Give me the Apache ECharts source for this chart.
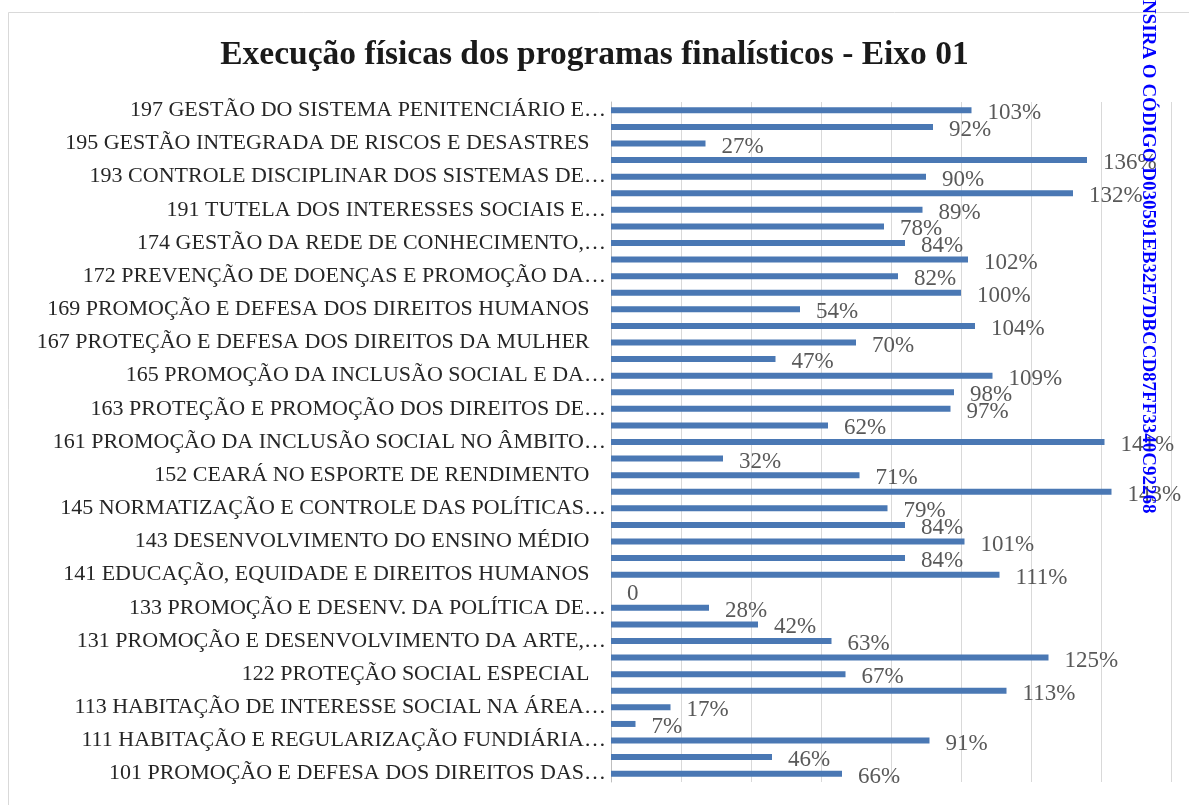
<!DOCTYPE html>
<html>
<head>
<meta charset="utf-8">
<script src="https://cdn.jsdelivr.net/npm/echarts@6/dist/echarts.min.js"></script>
<style>
html,body{margin:0;padding:0;background:#fff;}
#c{width:1189px;height:805px;}
</style>
</head>
<body>
<div id="c"></div>
<script>
// Categories, bottom to top (unlabelled rows in the picture are '')
const categories = [
  '101 PROMOÇÃO E DEFESA DOS DIREITOS DAS…', '',
  '111 HABITAÇÃO E REGULARIZAÇÃO FUNDIÁRIA…', '',
  '113 HABITAÇÃO DE INTERESSE SOCIAL NA ÁREA…', '',
  '122 PROTEÇÃO SOCIAL ESPECIAL   ', '',
  '131 PROMOÇÃO E DESENVOLVIMENTO DA ARTE,…', '',
  '133 PROMOÇÃO E DESENV. DA POLÍTICA DE…', '',
  '141 EDUCAÇÃO, EQUIDADE E DIREITOS HUMANOS   ', '',
  '143 DESENVOLVIMENTO DO ENSINO MÉDIO   ', '',
  '145 NORMATIZAÇÃO E CONTROLE DAS POLÍTICAS…', '',
  '152 CEARÁ NO ESPORTE DE RENDIMENTO   ', '',
  '161 PROMOÇÃO DA INCLUSÃO SOCIAL NO ÂMBITO…', '',
  '163 PROTEÇÃO E PROMOÇÃO DOS DIREITOS DE…', '',
  '165 PROMOÇÃO DA INCLUSÃO SOCIAL E DA…', '',
  '167 PROTEÇÃO E DEFESA DOS DIREITOS DA MULHER   ', '',
  '169 PROMOÇÃO E DEFESA DOS DIREITOS HUMANOS   ', '',
  '172 PREVENÇÃO DE DOENÇAS E PROMOÇÃO DA…', '',
  '174 GESTÃO DA REDE DE CONHECIMENTO,…', '',
  '191 TUTELA DOS INTERESSES SOCIAIS E…', '',
  '193 CONTROLE DISCIPLINAR DOS SISTEMAS DE…', '',
  '195 GESTÃO INTEGRADA DE RISCOS E DESASTRES   ', '',
  '197 GESTÃO DO SISTEMA PENITENCIÁRIO E…'
];
// Physical execution (%), bottom to top
const values = [
  66, 46, 91, 7, 17, 113, 67, 125, 63, 42,
  28, 0, 111, 84, 101, 84, 79, 143, 71, 32,
  141, 62, 97, 98, 109, 47, 70, 104, 54, 100,
  82, 102, 84, 78, 89, 132, 90, 136, 27, 92,
  103
];
const titleText = 'Execução físicas dos programas finalísticos - Eixo 01';
const watermarkText = 'NSIRA O CÓDIGO D030591EB32E7DBCCD87FF3340C92268';
const xMin = 0, xMax = 160, xStep = 20;

const chart = echarts.init(document.getElementById('c'));
chart.setOption({
  backgroundColor: '#fff',
  animation: false,
  title: {
    text: titleText,
    left: 'center',
    top: 33,
    textStyle: {fontFamily: 'Liberation Serif', fontWeight: 'bold', fontSize: 33.5, color: '#1a1a1a'}
  },
  grid: {left: 611, right: 18, top: 102, bottom: 23, containLabel: false},
  xAxis: {
    type: 'value', min: xMin, max: xMax, interval: xStep,
    axisLabel: {show: false},
    axisLine: {show: false}, axisTick: {show: false},
    splitLine: {show: true, lineStyle: {color: '#d9d9d9', width: 1}}
  },
  yAxis: {
    type: 'category', data: categories,
    axisLine: {show: true, lineStyle: {color: '#bfbfbf'}},
    axisTick: {show: false},
    axisLabel: {
      interval: function (i) { return i % 2 === 0; },
      margin: 5,
      fontFamily: 'Liberation Serif', fontSize: 22, color: '#262626'
    }
  },
  series: [{
    type: 'bar',
    data: values,
    barWidth: 6,
    itemStyle: {color: '#4a78b4'},
    label: {
      show: true, position: 'right', distance: 16, offset: [0, 3],
      fontFamily: 'Liberation Serif', fontSize: 23, color: '#595959',
      formatter: function (p) { return p.value === 0 ? '0' : p.value + '%'; }
    }
  }],
  graphic: [
    {type: 'rect', silent: true, z: -1, shape: {x: 8.5, y: 12.5, width: 1200, height: 820},
     style: {fill: 'none', stroke: '#d9d9d9', lineWidth: 1}},
    {type: 'text', silent: true, z: 100, x: 1157, y: 0, rotation: -Math.PI / 2,
     style: {text: watermarkText, fill: '#0000ff', font: 'bold 19px "Liberation Serif"',
             textAlign: 'left', textVerticalAlign: 'top'}}
  ]
});
</script>
</body>
</html>
